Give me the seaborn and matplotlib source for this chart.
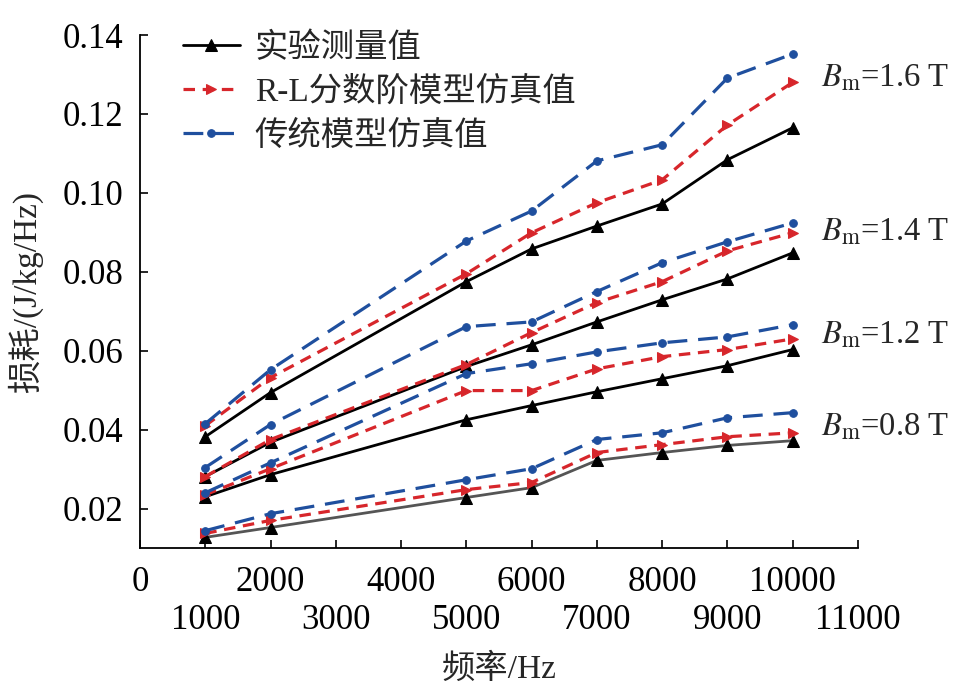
import numpy as np
import pandas as pd
import matplotlib
matplotlib.use("Agg")
import matplotlib.pyplot as plt
import seaborn as sns

# ------------------------------------------------------------------
# Data
# ------------------------------------------------------------------
freq = [1000, 2000, 5000, 6000, 7000, 8000, 9000, 10000]

meas_16 = [0.0382, 0.0494, 0.0775, 0.0858, 0.0916, 0.0972, 0.1084, 0.1165]
rl_16   = [0.0410, 0.0532, 0.0795, 0.0899, 0.0975, 0.1033, 0.1172, 0.1280]
trad_16 = [0.0415, 0.0552, 0.0878, 0.0954, 0.1081, 0.1122, 0.1291, 0.1352]

meas_14 = [0.0281, 0.0368, 0.0560, 0.0615, 0.0673, 0.0729, 0.0782, 0.0848]
rl_14   = [0.0281, 0.0375, 0.0565, 0.0646, 0.0722, 0.0775, 0.0853, 0.0899]
trad_14 = [0.0304, 0.0413, 0.0661, 0.0673, 0.0750, 0.0823, 0.0876, 0.0924]

meas_12 = [0.0230, 0.0286, 0.0425, 0.0461, 0.0496, 0.0529, 0.0562, 0.0603]
rl_12   = [0.0235, 0.0301, 0.0499, 0.0499, 0.0554, 0.0585, 0.0603, 0.0630]
trad_12 = [0.0240, 0.0316, 0.0542, 0.0567, 0.0597, 0.0620, 0.0635, 0.0666]

meas_08 = [0.0127, 0.0152, 0.0228, 0.0253, 0.0322, 0.0342, 0.0360, 0.0372]
rl_08   = [0.0137, 0.0170, 0.0248, 0.0266, 0.0342, 0.0362, 0.0382, 0.0392]
trad_08 = [0.0144, 0.0187, 0.0273, 0.0301, 0.0375, 0.0392, 0.0430, 0.0443]

bm_labels = ["1.6", "1.4", "1.2", "0.8"]
bm_label_y = [0.1290, 0.0901, 0.0640, 0.0405]
method_names = ["实验测量值", "R-L分数阶模型仿真值", "传统模型仿真值"]

groups = {
    "1.6": [meas_16, rl_16, trad_16],
    "1.4": [meas_14, rl_14, trad_14],
    "1.2": [meas_12, rl_12, trad_12],
    "0.8": [meas_08, rl_08, trad_08],
}

# ------------------------------------------------------------------
# Style
# ------------------------------------------------------------------
sns.set_style("ticks")
plt.rcParams["font.family"] = ["Liberation Serif", "Noto Sans CJK SC"]
plt.rcParams["mathtext.fontset"] = "stix"
plt.rcParams["axes.unicode_minus"] = False

RED = "#d7262b"
BLUE = "#1f4f9e"
styles = [
    dict(color="black", linestyle="-", linewidth=2.0, marker="^", markersize=8.5),
    dict(color=RED, linestyle=(0, (3.6, 2.4)), linewidth=2.3, marker=">", markersize=7),
    dict(color=BLUE, linestyle=(0, (6.2, 3.4)), linewidth=2.3, marker="o", markersize=5.5),
]

fig = plt.figure(figsize=(9.55, 6.84), dpi=100)
ax = fig.add_axes([0.1466, 0.1988, 0.7518, 0.7500])

for bm in bm_labels:
    for i, (vals, name) in enumerate(zip(groups[bm], method_names)):
        st = dict(styles[i])
        df = pd.DataFrame({"freq": freq, "loss": vals})
        line_color = st.pop("color")
        if bm == "0.8" and i == 0:
            line_color = "#555555"  # lowest measured curve is drawn in grey
        sns.lineplot(
            data=df, x="freq", y="loss", ax=ax,
            color=line_color, markerfacecolor=styles[i]["color"],
            markeredgecolor=styles[i]["color"],
            label=name if bm == "1.6" else None,
            **st,
        )

# ------------------------------------------------------------------
# Axes
# ------------------------------------------------------------------
ax.set_xlim(0, 11000)
ax.set_ylim(0.01, 0.14)
yt = [0.02, 0.04, 0.06, 0.08, 0.10, 0.12, 0.14]
ax.set_yticks(yt)
ax.set_yticklabels([f"{v:.2f}" for v in yt])

# staggered x labels: even thousands on the upper row, odd on the lower row
ax.set_xticks([0, 2000, 4000, 6000, 8000, 10000])
ax.set_xticklabels(["0", "2000", "4000", "6000", "8000", "10000"])
ax.set_xticks([1000, 3000, 5000, 7000, 9000, 11000], minor=True)
ax.set_xticklabels(["1000", "3000", "5000", "7000", "9000", "11000"], minor=True)

ax.tick_params(axis="both", which="both", direction="in", length=6, width=1.2,
               labelsize=25, colors="black")
ax.tick_params(axis="x", which="major", pad=13)
ax.tick_params(axis="x", which="minor", pad=40)
ax.tick_params(axis="y", pad=12)

for side in ["top", "right"]:
    ax.spines[side].set_visible(False)
for side in ["left", "bottom"]:
    ax.spines[side].set_linewidth(1.3)
    ax.spines[side].set_color("black")

ax.set_xlabel("频率/Hz", fontsize=24, labelpad=12)
ax.set_ylabel("损耗/(J/kg/Hz)", fontsize=24, labelpad=14)

for lab, yv in zip(bm_labels, bm_label_y):
    ax.text(10440, yv, r"$B_{\mathrm{m}}$=" + lab + " T", fontsize=23.5,
            va="center", ha="left", clip_on=False)

ax.legend(loc="upper left", bbox_to_anchor=(0.1916, 0.953),
          bbox_transform=fig.transFigure, frameon=False, fontsize=24,
          handlelength=1.7, handletextpad=0.45, labelspacing=0.39,
          borderpad=0, borderaxespad=0)

fig.savefig("out.png", dpi=100)
plt.close(fig)
